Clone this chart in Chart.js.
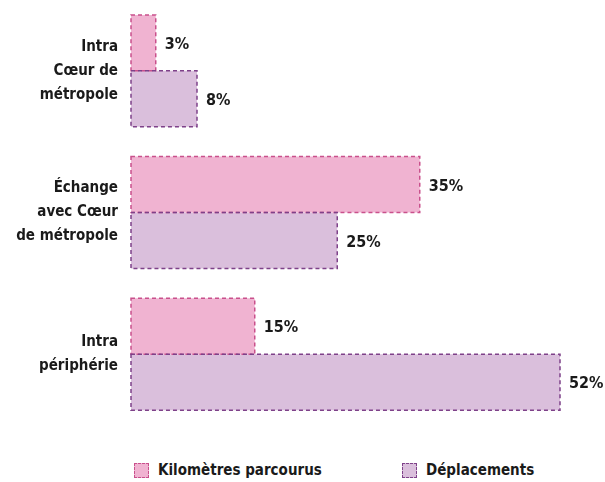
<!DOCTYPE html>
<html>
<head>
<meta charset="utf-8">
<script src="https://cdn.jsdelivr.net/npm/chart.js@4.4.1/dist/chart.umd.min.js"></script>
<style>
  body { margin: 0; background: #fff; }
  #wrap { position: relative; width: 605px; height: 440px; }
  #legend {
    position: absolute; top: 461px; left: 134px;
    display: flex;
    font-family: "DejaVu Sans Condensed", "Liberation Sans Narrow", sans-serif;
    font-weight: bold; font-size: 15px; color: #1a1a1a;
  }
  .item { display: flex; align-items: center; }
  .item:first-child { width: 268px; }
  .box { width: 13px; height: 13px; margin-right: 9px; border: 1.5px dashed; }
</style>
</head>
<body>
<div id="wrap"><canvas id="chart"></canvas></div>
<div id="legend"></div>
<script>
// categories (multi-line tick labels)
const categories = [
    ['Intra', 'Cœur de', 'métropole'],
    ['Échange', 'avec Cœur', 'de métropole'],
    ['Intra', 'périphérie']
];
const seriesNames = ['Kilomètres parcourus', 'Déplacements'];
const kilometres = [3, 35, 15];
const deplacements = [8, 25, 52];

const fills = ['#f0b3d1', '#dabfdc'];
const borders = ['#c9508c', '#7e4189'];
const FONT = '"DejaVu Sans Condensed", "Liberation Sans Narrow", sans-serif';

// dashed outlines + value labels
const barDecor = {
    id: 'barDecor',
    afterDatasetsDraw(chart) {
        const ctx = chart.ctx;
        chart.data.datasets.forEach((ds, i) => {
            const meta = chart.getDatasetMeta(i);
            meta.data.forEach((bar, j) => {
                const p = bar.getProps(['x', 'y', 'base', 'height'], true);
                const top = p.y - p.height / 2;
                ctx.save();
                ctx.strokeStyle = borders[i];
                ctx.lineWidth = 1.5;
                ctx.setLineDash([4, 3]);
                ctx.strokeRect(p.base, top, p.x - p.base, p.height);
                ctx.restore();

                ctx.save();
                ctx.fillStyle = '#1a1a1a';
                ctx.font = 'bold 16px ' + FONT;
                ctx.textAlign = 'left';
                ctx.textBaseline = 'middle';
                ctx.fillText(ds.data[j] + '%', p.x + 9, p.y + 2);
                ctx.restore();
            });
        });
    }
};

const ctx = document.getElementById('chart').getContext('2d');
const chart = new Chart(ctx, {
    type: 'bar',
    data: {
        labels: categories,
        datasets: [
            { label: seriesNames[0], data: kilometres, backgroundColor: fills[0], borderWidth: 0 },
            { label: seriesNames[1], data: deplacements, backgroundColor: fills[1], borderWidth: 0 }
        ]
    },
    options: {
        indexAxis: 'y',
        responsive: true,
        maintainAspectRatio: false,
        animation: false,
        layout: { padding: { top: 0, bottom: 15, left: 0, right: 12 } },
        datasets: { bar: { barPercentage: 1, categoryPercentage: 0.79 } },
        plugins: {
            legend: { display: false },
            tooltip: { enabled: false }
        },
        scales: {
            x: { display: false, min: 0, max: 56 },
            y: {
                grid: { display: false },
                border: { display: false },
                afterFit(scale) {
                    scale.width = 131;
                    scale.paddingTop = 0;
                    scale.paddingBottom = 0;
                },
                ticks: {
                    padding: 5,
                    color: '#1a1a1a',
                    font: { family: FONT, size: 15, weight: 'bold', lineHeight: 1.6 }
                }
            }
        }
    },
    plugins: [barDecor]
});

// legend built from the series
const legend = document.getElementById('legend');
seriesNames.forEach((name, i) => {
    const item = document.createElement('div');
    item.className = 'item';
    const box = document.createElement('span');
    box.className = 'box';
    box.style.background = fills[i];
    box.style.borderColor = borders[i];
    const txt = document.createElement('span');
    txt.textContent = name;
    item.appendChild(box);
    item.appendChild(txt);
    legend.appendChild(item);
});
</script>
</body>
</html>
